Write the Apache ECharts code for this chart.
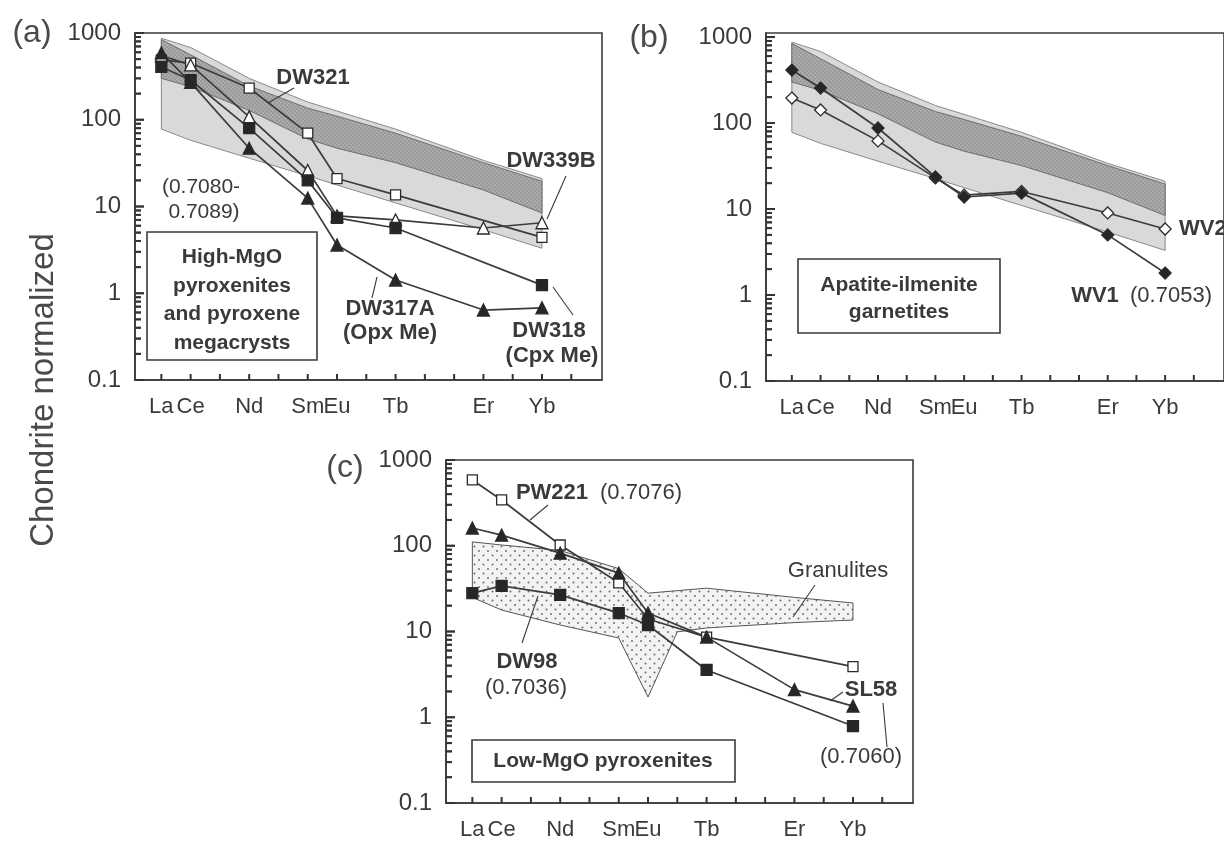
<!DOCTYPE html>
<html>
<head>
<meta charset="utf-8">
<script src="https://cdn.jsdelivr.net/npm/echarts@6/dist/echarts.min.js"></script>
<style>
  html, body { margin: 0; padding: 0; background: #ffffff; }
  #chart { width: 1224px; height: 843px; }
</style>
</head>
<body>
<div id="chart"></div>
<script>
// ---- Rare-earth element axis ----
const REE = ['La','Ce','Pr','Nd','Pm','Sm','Eu','Gd','Tb','Dy','Ho','Er','Tm','Yb','Lu'];
const labelledREE = ['La','Ce','Nd','Sm','Eu','Tb','Er','Yb'];
const yTickLabels = ['0.1','1','10','100','1000'];

// ---- Reference fields shown in panels (a) and (b) ----
const fieldEls   = ['La','Ce','Nd','Sm','Eu','Tb','Er','Yb'];
const lightUpper = [870, 680, 300, 160, 126, 78, 34, 21];
const lightLower = [78, 58, 36, 22.6, 17.7, 11, 5.4, 3.3];
const darkUpper  = [840, 560, 245, 136, 110, 70, 32, 19.5];
const darkLower  = [300, 240, 128, 60, 47, 32, 15.5, 8.4];

// ---- Panel (a): high-MgO pyroxenites and pyroxene megacrysts ----
const dw321Els  = ['La','Ce','Nd','Sm','Eu','Tb','Yb'];
const dw321     = [490, 450, 232, 70, 21, 13.6, 4.4];
const dw339bEls = ['La','Ce','Nd','Sm','Eu','Tb','Er','Yb'];
const dw339b    = [550, 428, 108, 26, 7.8, 7.0, 5.65, 6.5];
const dw318Els  = ['La','Ce','Nd','Sm','Eu','Tb','Yb'];
const dw318     = [406, 287, 80, 20, 7.4, 5.65, 1.24];
const dw317aEls = ['La','Ce','Nd','Sm','Eu','Tb','Er','Yb'];
const dw317a    = [590, 270, 47, 12.5, 3.6, 1.42, 0.64, 0.68];

// ---- Panel (b): apatite-ilmenite garnetites ----
const wvEls = ['La','Ce','Nd','Sm','Eu','Tb','Er','Yb'];
const wv1   = [413, 255, 87.5, 23.6, 13.8, 15.3, 5.0, 1.8];
const wv2   = [195, 142, 62, 23, 14.5, 16, 9.0, 5.85];

// ---- Panel (c): low-MgO pyroxenites and granulite field ----
const pw221Els = ['La','Ce','Nd','Sm','Eu','Tb','Yb'];
const pw221    = [585, 342, 102, 37, 14, 8.6, 3.9];
const sl58Els  = ['La','Ce','Nd','Sm','Eu','Tb','Er','Yb'];
const sl58     = [161, 133, 82, 48, 16.4, 8.6, 2.1, 1.35];
const dw98Els  = ['La','Ce','Nd','Sm','Eu','Tb','Yb'];
const dw98     = [28, 34, 26.7, 16.4, 11.9, 3.56, 0.79];
const granUpperEls = ['La','Ce','Nd','Sm','Eu','Tb','Er','Yb'];
const granUpper    = [111, 102, 88, 54, 28, 32, 25, 21.5];
const granLowerEls = ['La','Ce','Nd','Sm','Eu','Gd','Tb','Er','Yb'];
const granLower    = [25, 17.8, 11.9, 8.4, 1.72, 9.9, 11, 12.7, 13.6];

// ---- styling ----
const INK = '#3a3a3a';
const LINE_INK = '#3c3c3c';
const FONT = '"Liberation Sans", Arial, Helvetica, sans-serif';
const X_MIN = -0.9, X_MAX = 15.05;

function makePattern(size, bg, dot, dots, r) {
  const c = document.createElement('canvas');
  c.width = size; c.height = size;
  const g = c.getContext('2d');
  g.fillStyle = bg; g.fillRect(0, 0, size, size);
  g.fillStyle = dot;
  dots.forEach(p => { g.beginPath(); g.arc(p[0], p[1], r, 0, Math.PI * 2); g.fill(); });
  return { image: c, repeat: 'repeat' };
}
const darkStipple = makePattern(4, '#ababab', '#7c7c7c', [[1, 1], [3, 3]], 0.7);
const granDots = makePattern(9, '#f3f3f3', '#6a6a6a', [[2, 2], [6.5, 6.5]], 0.95);

const idx = el => REE.indexOf(el);
const pairs = (els, vals) => els.map((e, i) => [idx(e), vals[i]]);

// Log-scale tick values: decades, and 2..9 within each decade
const majorTicks = yTickLabels.map(Number);
const minorTicks = [];
majorTicks.slice(0, -1).forEach(d => { for (let m = 2; m <= 9; m++) minorTicks.push(+(m * d).toPrecision(3)); });

const grids = [
  { left: 135, top: 33, width: 467, height: 347, ymax: 1000 },
  { left: 766, top: 33, width: 466, height: 348, ymax: 1114 },
  { left: 446, top: 460, width: 467, height: 343, ymax: 1000 }
];

const xAxes = grids.map((g, i) => ({
  gridIndex: i, type: 'value', min: X_MIN, max: X_MAX, position: 'bottom',
  axisLine: { show: true, onZero: false, lineStyle: { color: INK, width: 1.6 } },
  axisTick: { show: false },
  axisLabel: { show: true, customValues: labelledREE.map(idx), margin: 16,
               formatter: v => REE[Math.round(v)], color: INK, fontSize: 22, fontFamily: FONT },
  splitLine: { show: false }
}));

const yAxes = grids.map((g, i) => ({
  gridIndex: i, type: 'log', logBase: 10, min: 0.1, max: g.ymax, splitNumber: 4, position: 'left',
  axisLine: { show: true, onZero: false, lineStyle: { color: INK, width: 1.6 } },
  axisTick: { show: false },
  axisLabel: {
    color: INK, fontSize: 24, fontFamily: FONT, margin: 14,
    formatter: v => {
      const e = Math.log10(v);
      if (Math.abs(e - Math.round(e)) > 1e-6) return '';
      return yTickLabels[Math.round(e) + 1] || '';
    }
  },
  splitLine: { show: false }
}));

// Inward tick marks of one panel: log ticks on the left axis, one tick per element on the bottom axis
function tickSeries(gi) {
  const tickStyle = { stroke: '#333333', lineWidth: 2, fill: 'none' };
  return {
    type: 'custom', xAxisIndex: gi, yAxisIndex: gi, silent: true, z: 20, clip: false,
    data: [[0, 1]],
    renderItem: (params, api) => {
      const x0 = params.coordSys.x;
      const children = [];
      const addY = (v, len) => {
        const y = api.coord([0, v])[1];
        children.push({ type: 'polyline', shape: { points: [[x0, y], [x0 + len, y]] }, style: tickStyle });
      };
      majorTicks.forEach(v => addY(v, 9));
      minorTicks.forEach(v => addY(v, 6));
      REE.forEach((_, k) => {
        const p = api.coord([k, 0.1]);
        children.push({ type: 'polyline', shape: { points: [[p[0], p[1]], [p[0], p[1] - 6]] }, style: tickStyle });
      });
      return { type: 'group', children: children };
    }
  };
}
// The same left-axis ticks as short bar symbols placed on the axis
function yTickSymbols(gi, vals, len) {
  return {
    type: 'scatter', xAxisIndex: gi, yAxisIndex: gi, silent: true, z: 21, clip: false,
    data: vals.map(v => [X_MIN, v]), symbol: 'rect', symbolSize: [len, 2], symbolOffset: [len / 2, 0],
    itemStyle: { color: '#333333' }
  };
}

function fieldSeries(gi, upEls, up, loEls, lo, style, z) {
  return {
    type: 'custom', xAxisIndex: gi, yAxisIndex: gi, silent: true, z: z,
    data: [[0, 1]], clip: false,
    renderItem: (params, api) => {
      const points = [];
      upEls.forEach((e, k) => points.push(api.coord([idx(e), up[k]])));
      for (let k = loEls.length - 1; k >= 0; k--) points.push(api.coord([idx(loEls[k]), lo[k]]));
      return { type: 'polygon', shape: { points: points }, style: style };
    }
  };
}

function sampleSeries(name, gi, els, vals, symbol, size, filled) {
  return {
    name: name, type: 'line', xAxisIndex: gi, yAxisIndex: gi, z: 5, silent: true,
    data: pairs(els, vals), symbol: symbol, symbolSize: size, showAllSymbol: true,
    lineStyle: { color: LINE_INK, width: 1.7 },
    itemStyle: { color: filled ? '#262626' : '#ffffff', borderColor: '#2a2a2a', borderWidth: 1.3 }
  };
}

const lightStyle = { fill: '#d9d9d9', stroke: '#8a8a8a', lineWidth: 1 };
const darkStyle = { fill: darkStipple, stroke: '#6e6e6e', lineWidth: 1 };

const series = [
  // panel (a)
  fieldSeries(0, fieldEls, lightUpper, fieldEls, lightLower, lightStyle, 1),
  fieldSeries(0, fieldEls, darkUpper, fieldEls, darkLower, darkStyle, 2),
  sampleSeries('DW321', 0, dw321Els, dw321, 'rect', 10, false),
  sampleSeries('DW339B', 0, dw339bEls, dw339b, 'triangle', 12, false),
  sampleSeries('DW318', 0, dw318Els, dw318, 'rect', 11, true),
  sampleSeries('DW317A', 0, dw317aEls, dw317a, 'triangle', 12, true),
  // panel (b)
  fieldSeries(1, fieldEls, lightUpper, fieldEls, lightLower, lightStyle, 1),
  fieldSeries(1, fieldEls, darkUpper, fieldEls, darkLower, darkStyle, 2),
  sampleSeries('WV2', 1, wvEls, wv2, 'diamond', 12, false),
  sampleSeries('WV1', 1, wvEls, wv1, 'diamond', 12, true),
  // panel (c)
  fieldSeries(2, granUpperEls, granUpper, granLowerEls, granLower, { fill: granDots, stroke: '#555555', lineWidth: 1 }, 1),
  sampleSeries('PW221', 2, pw221Els, pw221, 'rect', 10, false),
  sampleSeries('SL58', 2, sl58Els, sl58, 'triangle', 12, true),
  sampleSeries('DW98', 2, dw98Els, dw98, 'rect', 11, true)
];
grids.forEach((g, i) => {
  series.push(tickSeries(i));
  series.push(yTickSymbols(i, majorTicks, 9));
  series.push(yTickSymbols(i, minorTicks, 6));
});

// ---- annotations ----
function txt(text, x, y, size, bold, align, color) {
  const a = align || 'center';
  return { type: 'text', x: x, y: y, z: 100, silent: true,
    style: { text: text, fill: color || INK, font: (bold ? 'bold ' : '') + size + 'px ' + FONT,
             textAlign: a, textVerticalAlign: 'middle', align: a, verticalAlign: 'middle' } };
}
function leader(x1, y1, x2, y2) {
  return { type: 'line', z: 100, silent: true, shape: { x1: x1, y1: y1, x2: x2, y2: y2 },
           style: { stroke: INK, lineWidth: 1.1 } };
}
function box(x, y, w, h) {
  return { type: 'rect', z: 99, silent: true, shape: { x: x, y: y, width: w, height: h },
           style: { fill: '#ffffff', stroke: INK, lineWidth: 1.6 } };
}

const graphics = [
  // axis title and panel letters
  { type: 'text', x: 44, y: 390, rotation: Math.PI / 2, z: 100, silent: true,
    style: { text: 'Chondrite normalized', fill: '#4a4a4a', font: '33px ' + FONT,
             textAlign: 'center', textVerticalAlign: 'middle', align: 'center', verticalAlign: 'middle' } },
  txt('(a)', 32, 33, 32, false, 'center', '#4a4a4a'),
  txt('(b)', 649, 38, 32, false, 'center', '#4a4a4a'),
  txt('(c)', 345, 468, 32, false, 'center', '#4a4a4a'),

  // panel (a)
  txt('DW321', 313, 78, 22, true),
  leader(294, 88, 268, 103),
  txt('(0.7080-', 201, 187, 21, false),
  txt('0.7089)', 204, 212, 21, false),
  box(147, 232, 170, 128),
  txt('High-MgO', 232, 257, 21, true),
  txt('pyroxenites', 232, 286, 21, true),
  txt('and pyroxene', 232, 314, 21, true),
  txt('megacrysts', 232, 343, 21, true),
  txt('DW339B', 551, 161, 22, true),
  leader(566, 176, 547, 219),
  txt('DW317A', 390, 309, 22, true),
  txt('(Opx Me)', 390, 333, 22, true),
  leader(372, 298, 377, 277),
  txt('DW318', 549, 331, 22, true),
  txt('(Cpx Me)', 552, 356, 22, true),
  leader(553, 287, 573, 315),

  // panel (b)
  box(798, 259, 202, 74),
  txt('Apatite-ilmenite', 899, 285, 21, true),
  txt('garnetites', 899, 312, 21, true),
  txt('WV1', 1095, 296, 22, true),
  txt('(0.7053)', 1171, 296, 22, false),
  txt('WV2', 1179, 229, 22, true, 'left'),

  // panel (c)
  txt('PW221', 552, 493, 22, true),
  txt('(0.7076)', 641, 493, 22, false),
  leader(548, 505, 530, 520),
  txt('Granulites', 838, 571, 22, false),
  leader(815, 585, 793, 617),
  txt('DW98', 527, 662, 22, true),
  txt('(0.7036)', 526, 688, 22, false),
  leader(522, 643, 538, 596),
  txt('SL58', 871, 690, 22, true),
  leader(843, 692, 830, 701),
  txt('(0.7060)', 861, 757, 22, false),
  leader(883, 703, 887, 747),
  box(472, 740, 263, 42),
  txt('Low-MgO pyroxenites', 603, 761, 21, true)
];

const chart = echarts.init(document.getElementById('chart'), null, { renderer: 'canvas' });
chart.setOption({
  animation: false,
  backgroundColor: '#ffffff',
  grid: grids.map(g => ({ left: g.left, top: g.top, width: g.width, height: g.height,
                          show: true, borderColor: INK, borderWidth: 1.6, backgroundColor: 'transparent' })),
  xAxis: xAxes,
  yAxis: yAxes,
  series: series,
  graphic: { elements: graphics }
});
</script>
</body>
</html>
